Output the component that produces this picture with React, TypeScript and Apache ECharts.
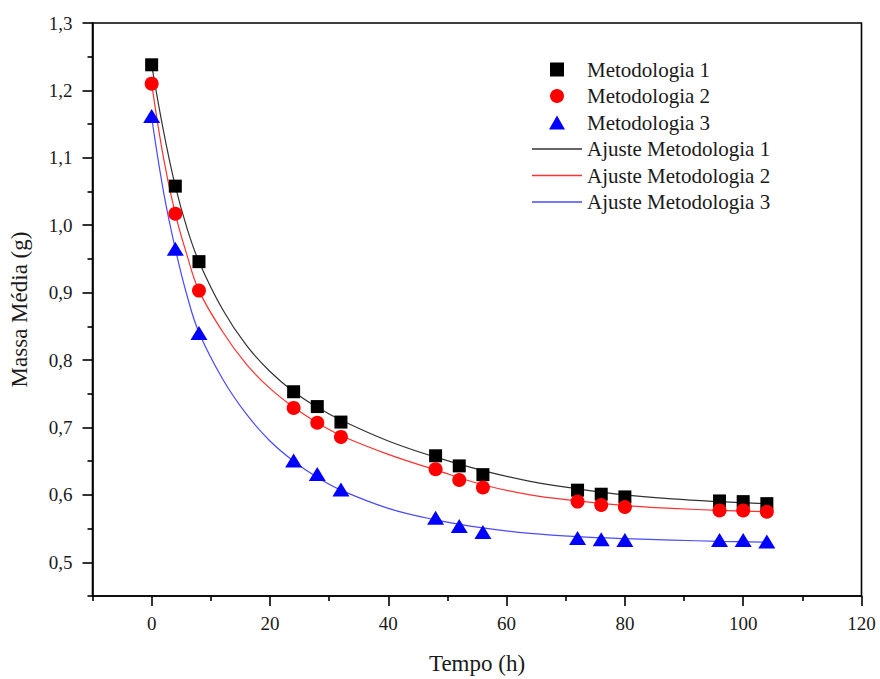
import React, { useEffect, useRef } from "react";
import * as echarts from "echarts";

const timeHours = [0, 4, 8, 24, 28, 32, 48, 52, 56, 72, 76, 80, 96, 100, 104];
const met1 = [1.238, 1.058, 0.946, 0.753, 0.731, 0.708, 0.658, 0.643, 0.630, 0.607, 0.601, 0.597, 0.591, 0.590, 0.587];
const met2 = [1.21, 1.017, 0.903, 0.729, 0.707, 0.686, 0.638, 0.622, 0.611, 0.590, 0.585, 0.582, 0.577, 0.577, 0.575];
const met3 = [1.162, 0.965, 0.840, 0.651, 0.631, 0.608, 0.566, 0.554, 0.545, 0.536, 0.534, 0.533, 0.533, 0.533, 0.531];

const fitHours = [0, 2, 4, 6, 8, 12, 16, 20, 24, 28, 32, 40, 48, 56, 64, 72, 80, 88, 96, 104];
const fit1 = [1.238, 1.14, 1.058, 0.995, 0.946, 0.875, 0.822, 0.783, 0.753, 0.73, 0.711, 0.68, 0.656, 0.636, 0.62, 0.609, 0.6, 0.594, 0.59, 0.587];
const fit2 = [1.21, 1.1, 1.017, 0.955, 0.903, 0.842, 0.794, 0.758, 0.73, 0.707, 0.688, 0.66, 0.637, 0.615, 0.6, 0.591, 0.584, 0.58, 0.577, 0.575];
const fit3 = [1.16, 1.05, 0.965, 0.895, 0.841, 0.772, 0.72, 0.68, 0.65, 0.626, 0.607, 0.58, 0.563, 0.551, 0.543, 0.538, 0.535, 0.533, 0.531, 0.53];

const xMajorTicks = [0, 20, 40, 60, 80, 100, 120];
const xMinorTicks = [-10, 10, 30, 50, 70, 90, 110];
const yMajorTicks = [0.5, 0.6, 0.7, 0.8, 0.9, 1.0, 1.1, 1.2, 1.3];
const yMinorTicks = [0.45, 0.55, 0.65, 0.75, 0.85, 0.95, 1.05, 1.15, 1.25];

const seriesNames = [
  "Metodologia 1",
  "Metodologia 2",
  "Metodologia 3",
  "Ajuste Metodologia 1",
  "Ajuste Metodologia 2",
  "Ajuste Metodologia 3",
];

const FONT = "'Liberation Serif', 'Times New Roman', serif";
const TXT = "#1a1a1a";

const SQUARE_ICON = "path://M0,0H10V10H0Z";
const TRIANGLE_ICON = "path://M6,0L12,10.5L0,10.5Z";
const LINE_ICON = "path://M0,0H50V1.4H0Z";

const pairs = (xs: number[], ys: number[]) => xs.map((x, i) => [x, ys[i]]);

export default function App() {
  const ref = useRef<HTMLDivElement>(null);
  useEffect(() => {
    if (!ref.current) return;
    const chart = echarts.init(ref.current, null, { renderer: "svg" });
    const axisLine = { show: true, onZero: false, lineStyle: { color: "#000", width: 1.6 } };
    const lineItem = (name: string, color: string) => ({
      name,
      icon: LINE_ICON,
      itemStyle: { color, borderWidth: 0 },
      lineStyle: { color },
    });
    const option: any = {
      animation: false,
      backgroundColor: "#fff",
      textStyle: { fontFamily: FONT },
      grid: {
        left: 92.5,
        right: 18.5,
        top: 23,
        bottom: 83,
        show: true,
        borderColor: "#000",
        borderWidth: 1.6,
        containLabel: false,
        outerBoundsMode: "none",
      },
      legend: {
        orient: "vertical",
        left: 527,
        top: 54,
        padding: 5,
        itemWidth: 50,
        itemHeight: 14,
        itemGap: 5.5,
        symbolKeepAspect: true,
        data: [
          { name: seriesNames[0], icon: SQUARE_ICON, itemStyle: { color: "#000" } },
          { name: seriesNames[1], icon: "circle", itemStyle: { color: "#ff0000" } },
          { name: seriesNames[2], icon: TRIANGLE_ICON, itemStyle: { color: "#0000ff" } },
          lineItem(seriesNames[3], "#333333"),
          lineItem(seriesNames[4], "#ff3030"),
          lineItem(seriesNames[5], "#4a4aff"),
        ],
        textStyle: { fontFamily: FONT, fontSize: 21, color: TXT },
      },
      xAxis: [
        {
          type: "value",
          min: -10,
          max: 120,
          position: "bottom",
          axisLine,
          splitLine: { show: false },
          axisTick: { show: true, inside: false, length: 10, customValues: xMajorTicks, lineStyle: { color: "#000", width: 1.6 } },
          axisLabel: { customValues: xMajorTicks, margin: 18, fontFamily: FONT, fontSize: 19, color: TXT },
          name: "Tempo (h)",
          nameLocation: "middle",
          nameGap: 56,
          nameTextStyle: { fontFamily: FONT, fontSize: 23, color: TXT },
        },
        {
          type: "value",
          min: -10,
          max: 120,
          position: "bottom",
          axisLine: { show: false, onZero: false },
          splitLine: { show: false },
          axisTick: { show: true, inside: false, length: 5, customValues: xMinorTicks, lineStyle: { color: "#000", width: 1.6 } },
          axisLabel: { show: false },
        },
      ],
      yAxis: [
        {
          type: "value",
          min: 0.45,
          max: 1.3,
          position: "left",
          axisLine,
          splitLine: { show: false },
          axisTick: { show: true, inside: false, length: 10, customValues: yMajorTicks, lineStyle: { color: "#000", width: 1.6 } },
          axisLabel: {
            customValues: yMajorTicks,
            margin: 20,
            fontFamily: FONT,
            fontSize: 19,
            color: TXT,
            formatter: (v: number) => v.toFixed(1).replace(".", ","),
          },
          name: "Massa Média (g)",
          nameLocation: "middle",
          nameGap: 62,
          nameTextStyle: { fontFamily: FONT, fontSize: 23, color: TXT },
        },
        {
          type: "value",
          min: 0.45,
          max: 1.3,
          position: "left",
          axisLine: { show: false, onZero: false },
          splitLine: { show: false },
          axisTick: { show: true, inside: false, length: 5, customValues: yMinorTicks, lineStyle: { color: "#000", width: 1.6 } },
          axisLabel: { show: false },
        },
      ],
      series: [
        {
          name: seriesNames[3],
          type: "line",
          data: pairs(fitHours, fit1),
          smooth: 0.4,
          symbol: "none",
          lineStyle: { color: "#333", width: 1.2 },
          itemStyle: { color: "#333" },
          z: 2,
        },
        {
          name: seriesNames[4],
          type: "line",
          data: pairs(fitHours, fit2),
          smooth: 0.4,
          symbol: "none",
          lineStyle: { color: "#ff3030", width: 1.2 },
          itemStyle: { color: "#ff3030" },
          z: 2,
        },
        {
          name: seriesNames[5],
          type: "line",
          data: pairs(fitHours, fit3),
          smooth: 0.4,
          symbol: "none",
          lineStyle: { color: "#4a4aff", width: 1.2 },
          itemStyle: { color: "#4a4aff" },
          z: 2,
        },
        {
          name: seriesNames[0],
          type: "scatter",
          data: pairs(timeHours, met1),
          symbol: "rect",
          symbolSize: 13,
          itemStyle: { color: "#000", opacity: 1 },
          z: 3,
        },
        {
          name: seriesNames[1],
          type: "scatter",
          data: pairs(timeHours, met2),
          symbol: "circle",
          symbolSize: 14,
          itemStyle: { color: "#ff0000", opacity: 1 },
          z: 3,
        },
        {
          name: seriesNames[2],
          type: "scatter",
          data: pairs(timeHours, met3),
          symbol: "triangle",
          symbolSize: [17, 14],
          itemStyle: { color: "#0000ff", opacity: 1 },
          z: 3,
        },
      ],
    };
    chart.setOption(option);
    return () => chart.dispose();
  }, []);
  return (
    <div
      ref={ref}
      style={{ position: "fixed", left: 0, top: 0, width: 880, height: 679, background: "#fff" }}
    />
  );
}
